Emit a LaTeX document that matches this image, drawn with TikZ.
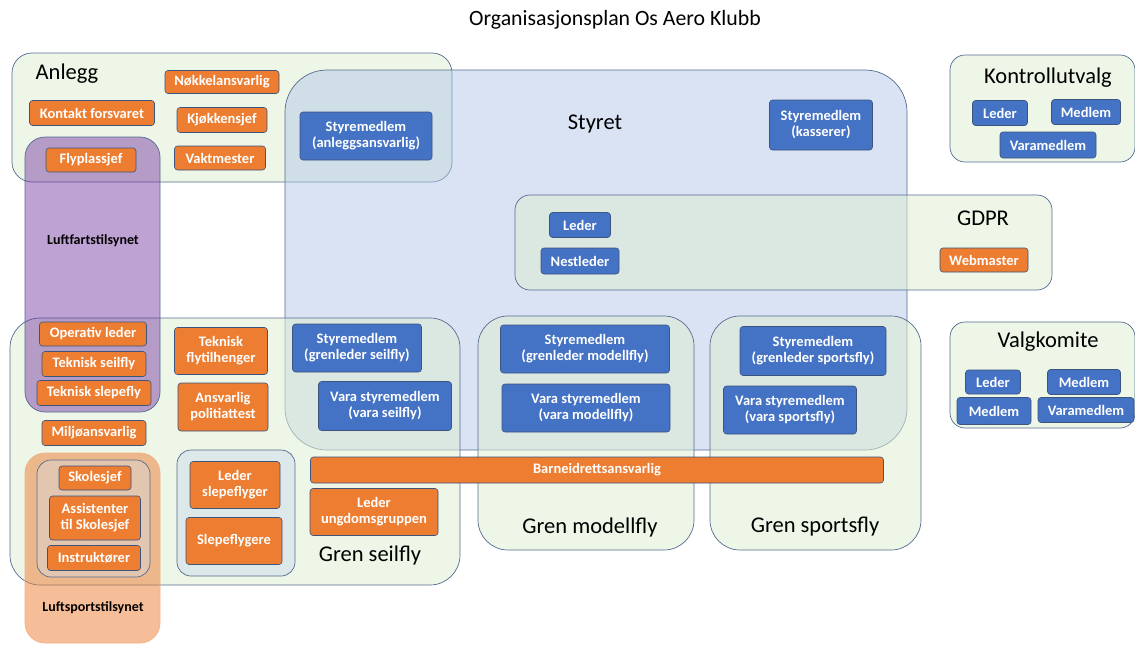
\documentclass[tikz,border=0pt]{standalone}
\usepackage{fontspec}
\setmainfont{Carlito}

\begin{document}
\begin{tikzpicture}[x=1pt,y=1pt,yscale=-1,
  role/.style={draw={rgb,255:red,60;green,85;blue,125},line width=0.6pt,rounded corners=3pt,text=white,
    font=\fontsize{14.5}{16}\selectfont\bfseries,align=center,inner sep=1pt},
  orangebox/.style={role,fill={rgb,255:red,237;green,125;blue,49}},
  bluebox/.style={role,fill={rgb,255:red,68;green,114;blue,196}},
  group/.style={draw={rgb,255:red,84;green,106;blue,145},line width=0.7pt},
  greenarea/.style={group,fill={rgb,255:red,222;green,238;blue,212},fill opacity=0.55},
  grouplabel/.style={font=\fontsize{22.5}{26}\selectfont},
  authority/.style={font=\fontsize{14}{16}\selectfont\bfseries}
]
\useasboundingbox (0,0) rectangle (1135,645);

%Title
\node (title) at (615,20) {\fontsize{21.8}{25}\selectfont Organisasjonsplan Os Aero Klubb};

%Anlegg
\draw [greenarea,rounded corners=20pt] (12,53) rectangle (452,182);

%Styret
\draw [group,rounded corners=42pt,fill={rgb,255:red,180;green,199;blue,231},fill opacity=0.5] (285,70) rectangle (907,450);

%Gren seilfly
\draw [greenarea,rounded corners=30pt] (10,318) rectangle (460,585);

%Gren modellfly, Gren sportsfly
\draw [greenarea,rounded corners=30pt] (478,316) rectangle (694,550);
\draw [greenarea,rounded corners=30pt] (710,316) rectangle (921,550);

%GDPR
\draw [greenarea,rounded corners=15pt] (515,195) rectangle (1052,290);

%Kontrollutvalg, Valgkomite
\draw [greenarea,rounded corners=15pt] (950,55) rectangle (1135,162);
\draw [greenarea,rounded corners=15pt] (950,322) rectangle (1135,428);

%Luftfartstilsynet
\draw [group,rounded corners=20pt,fill={rgb,255:red,112;green,48;blue,160},fill opacity=0.45] (25,137) rectangle (160,412);

%Luftsportstilsynet
\draw [draw={rgb,255:red,244;green,177;blue,131},line width=0.7pt,rounded corners=20pt,fill={rgb,255:red,237;green,125;blue,49},fill opacity=0.5] (25,453) rectangle (160,643);

%Skole
\draw [group,rounded corners=14pt,fill={rgb,255:red,215;green,215;blue,220},fill opacity=0.45] (37,460) rectangle (150,577);

%Slepeflyging
\draw [group,rounded corners=14pt,fill={rgb,255:red,205;green,218;blue,238},fill opacity=0.5] (177,450) rectangle (295,576);

%Group labels
\node [grouplabel] (anlegg) at (67,74) {Anlegg};
\node [grouplabel] (styret) at (595,124) {Styret};
\node [grouplabel] (seilfly) at (370,555) {Gren seilfly};
\node [grouplabel] (modellfly) at (590,527) {Gren modellfly};
\node [grouplabel] (sportsfly) at (815,527) {Gren sportsfly};
\node [grouplabel] (gdpr) at (983,218) {GDPR};
\node [grouplabel] (kontroll) at (1048,78) {Kontrollutvalg};
\node [grouplabel] (valg) at (1048,342) {Valgkomite};
\node [authority] (luftfart) at (93,241) {Luftfartstilsynet};
\node [authority] (luftsport) at (93,608) {Luftsportstilsynet};

%Anlegg roles
\node [orangebox,minimum width=114,minimum height=23] (nokkel) at (222,82) {Nøkkelansvarlig};
\node [orangebox,minimum width=125,minimum height=25] (forsvaret) at (92,113) {Kontakt forsvaret};
\node [orangebox,minimum width=90,minimum height=25] (kjokken) at (222,120) {Kjøkkensjef};
\node [orangebox,minimum width=91,minimum height=24] (vakt) at (220,158) {Vaktmester};
\node [orangebox,minimum width=90,minimum height=24] (flyplass) at (91,160) {Flyplassjef};

%Styret roles
\node [bluebox,minimum width=132,minimum height=48] (anleggsansv) at (366,136) {Styremedlem\\(anleggsansvarlig)};
\node [bluebox,minimum width=103,minimum height=50] (kasserer) at (821,125) {Styremedlem\\(kasserer)};

%GDPR roles
\node [bluebox,minimum width=61,minimum height=25] (gdprleder) at (580,225) {Leder};
\node [bluebox,minimum width=78,minimum height=26] (nestleder) at (580,261) {Nestleder};
\node [orangebox,minimum width=88,minimum height=24] (webmaster) at (984,260) {Webmaster};

%Kontrollutvalg roles
\node [bluebox,minimum width=55,minimum height=25] (kleder) at (1000,113) {Leder};
\node [bluebox,minimum width=69,minimum height=25] (kmedlem) at (1086,112) {Medlem};
\node [bluebox,minimum width=96,minimum height=26] (kvara) at (1048,145) {Varamedlem};

%Valgkomite roles
\node [bluebox,minimum width=55,minimum height=24] (vleder) at (993,382) {Leder};
\node [bluebox,minimum width=73,minimum height=25] (vmedlemA) at (1084,382) {Medlem};
\node [bluebox,minimum width=74,minimum height=27] (vmedlemB) at (994,411) {Medlem};
\node [bluebox,minimum width=96,minimum height=25] (vvara) at (1086,410) {Varamedlem};

%Gren seilfly roles
\node [orangebox,minimum width=107,minimum height=24] (operativ) at (93,334) {Operativ leder};
\node [orangebox,minimum width=104,minimum height=25] (tekseil) at (94,364) {Teknisk seilfly};
\node [orangebox,minimum width=114,minimum height=25] (tekslepe) at (94,393) {Teknisk slepefly};
\node [orangebox,minimum width=104,minimum height=25] (miljo) at (94,433) {Miljøansvarlig};
\node [orangebox,minimum width=93,minimum height=47] (tilhenger) at (221,351) {Teknisk\\flytilhenger};
\node [orangebox,minimum width=90,minimum height=48] (politi) at (223,407) {Ansvarlig\\politiattest};
\node [bluebox,minimum width=129,minimum height=48] (grenseil) at (357,348) {Styremedlem\\(grenleder seilfly)};
\node [bluebox,minimum width=133,minimum height=49] (varaseil) at (385,406) {Vara styremedlem\\(vara seilfly)};
\node [orangebox,minimum width=72,minimum height=24] (skolesjef) at (95,478) {Skolesjef};
\node [orangebox,minimum width=91,minimum height=44] (assistent) at (95,518) {Assistenter\\til Skolesjef};
\node [orangebox,minimum width=93,minimum height=25] (instruktor) at (94,558) {Instruktører};
\node [orangebox,minimum width=90,minimum height=47] (slepeleder) at (235,485) {Leder\\slepeflyger};
\node [orangebox,minimum width=96,minimum height=47] (slepeflygere) at (234,541) {Slepeflygere};
\node [orangebox,minimum width=128,minimum height=47] (ungdom) at (374,512) {Leder\\ungdomsgruppen};

%Barneidrett
\node [orangebox,minimum width=573,minimum height=26] (barn) at (597,470) {Barneidrettsansvarlig};

%Gren modellfly roles
\node [bluebox,minimum width=169,minimum height=48] (grenmodell) at (585,349) {Styremedlem\\(grenleder modellfly)};
\node [bluebox,minimum width=168,minimum height=48] (varamodell) at (586,408) {Vara styremedlem\\(vara modellfly)};

%Gren sportsfly roles
\node [bluebox,minimum width=146,minimum height=49] (grensport) at (813,351) {Styremedlem\\(grenleder sportsfly)};
\node [bluebox,minimum width=133,minimum height=48] (varasport) at (790,410) {Vara styremedlem\\(vara sportsfly)};

\end{tikzpicture}
\end{document}
